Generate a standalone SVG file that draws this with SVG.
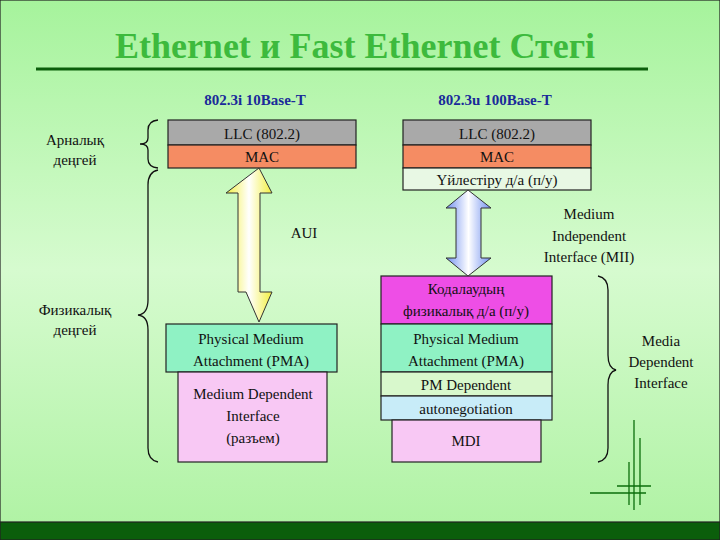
<svg xmlns="http://www.w3.org/2000/svg" width="720" height="540" viewBox="0 0 720 540" font-family="Liberation Serif, DejaVu Serif, serif">
<defs>
<linearGradient id="bg" x1="0" y1="0" x2="0" y2="1"><stop offset="0" stop-color="#a6f39c"/><stop offset="0.5" stop-color="#d6fbcf"/><stop offset="1" stop-color="#aef2a2"/></linearGradient>
<linearGradient id="yel" x1="0" y1="0" x2="1" y2="0"><stop offset="0" stop-color="#f2f040"/><stop offset="0.5" stop-color="#ffffff"/><stop offset="1" stop-color="#f2f040"/></linearGradient>
<linearGradient id="blu" x1="0" y1="0" x2="1" y2="0"><stop offset="0" stop-color="#6f8ff0"/><stop offset="0.5" stop-color="#ffffff"/><stop offset="1" stop-color="#6f8ff0"/></linearGradient>
<style>
text{font-family:'Liberation Serif','DejaVu Serif',serif;font-size:15px;fill:#111;text-anchor:middle}
.h{font-weight:bold;fill:#1a2a9a;font-size:15px}
rect{stroke:#222;stroke-width:1.2}
.br{fill:none;stroke:#111;stroke-width:1.3}
</style>
</defs>
<rect x="0" y="0" width="720" height="540" fill="url(#bg)" stroke="none"/>
<rect x="0" y="522" width="720" height="18" fill="#0b5e0b" stroke="none"/>
<text x="355" y="58" style="font-size:36px;font-weight:bold;fill:#3dba3d">Ethernet и Fast Ethernet  Стегі</text>
<line x1="36" y1="69" x2="648" y2="69" stroke="#0b5e0b" stroke-width="3"/>
<text class="h" x="255" y="105">802.3i 10Base-T</text>
<text class="h" x="495" y="105">802.3u 100Base-T</text>
<text x="75" y="145">Арналық</text><text x="75" y="165">деңгей</text>
<text x="75" y="315">Физикалық</text><text x="75" y="335">деңгей</text>
<g id="left">
<rect x="168" y="120" width="188" height="25" fill="#a9a9a9"/><text x="262" y="139">LLC (802.2)</text>
<rect x="168" y="145" width="188" height="23" fill="#f58c63"/><text x="262" y="162">MAC</text>
<rect x="166" y="324" width="171" height="48" fill="#8ff2c4"/><text x="251" y="344">Physical Medium</text><text x="251" y="366">Attachment (PMA)</text>
<rect x="178" y="372" width="149" height="90" fill="#f8c8f4"/><text x="253" y="399">Medium Dependent</text><text x="253" y="421">Interface</text><text x="253" y="443">(разъем)</text>
</g>
<g id="right">
<rect x="403" y="120" width="188" height="25" fill="#a9a9a9"/><text x="497" y="139">LLC (802.2)</text>
<rect x="403" y="145" width="188" height="23" fill="#f58c63"/><text x="497" y="162">MAC</text>
<rect x="403" y="168" width="188" height="22" fill="#e8f8e4"/><text x="497" y="185">Үйлестіру д/а (п/у)</text>
<rect x="381" y="276" width="171" height="48" fill="#ee4ee6"/><text x="466" y="294">Кодалаудың</text><text x="466" y="316">физикалық д/а (п/у)</text>
<rect x="381" y="324" width="171" height="48" fill="#8ff2c4"/><text x="466" y="344">Physical Medium</text><text x="466" y="366">Attachment (PMA)</text>
<rect x="381" y="372" width="171" height="24" fill="#d8f8cc"/><text x="466" y="390">PM Dependent</text>
<rect x="381" y="396" width="171" height="24" fill="#c8ecf8"/><text x="466" y="414">autonegotiation</text>
<rect x="392" y="420" width="149" height="42" fill="#f8c8f4"/><text x="466" y="446">MDI</text>
</g>
<g id="connectors">
<path d="M259,168 L272,193 L260,193 L260,292 L272,292 L259,322 L246,292 L238,292 L238,292 L238,193 L226,193 Z" fill="url(#yel)" stroke="#333"/>
<path d="M468,190 L491,208 L481,208 L481,258 L491,258 L468,276 L446,258 L456,258 L456,208 L446,208 Z" fill="url(#blu)" stroke="#333"/>
<path class="br" d="M158,120 Q148,121 148,130 L148,138 Q148,144 140,144 Q148,144 148,150 L148,159 Q148,167 158,168"/>
<path class="br" d="M158,170 Q148,172 148,185 L148,300 Q148,314 138,315 Q148,316 148,330 L148,448 Q148,460 158,462"/>
<path class="br" d="M598,276 Q608,278 608,290 L608,355 Q608,368 616,370 Q608,372 608,385 L608,448 Q608,460 598,462"/>
</g>
<text x="304" y="238">AUI</text>
<text x="589" y="219">Medium</text><text x="589" y="241">Independent</text><text x="589" y="262">Interface (МII)</text>
<text x="661" y="346">Media</text><text x="661" y="367">Dependent</text><text x="661" y="388">Interface</text>
<g stroke="#0b6e0b" stroke-width="1.3">
<line x1="634" y1="420" x2="634" y2="510"/><line x1="640" y1="438" x2="640" y2="505"/><line x1="629" y1="462" x2="629" y2="505"/>
<line x1="617" y1="486" x2="651" y2="486"/><line x1="590" y1="493" x2="646" y2="493"/>
</g>
</svg>
